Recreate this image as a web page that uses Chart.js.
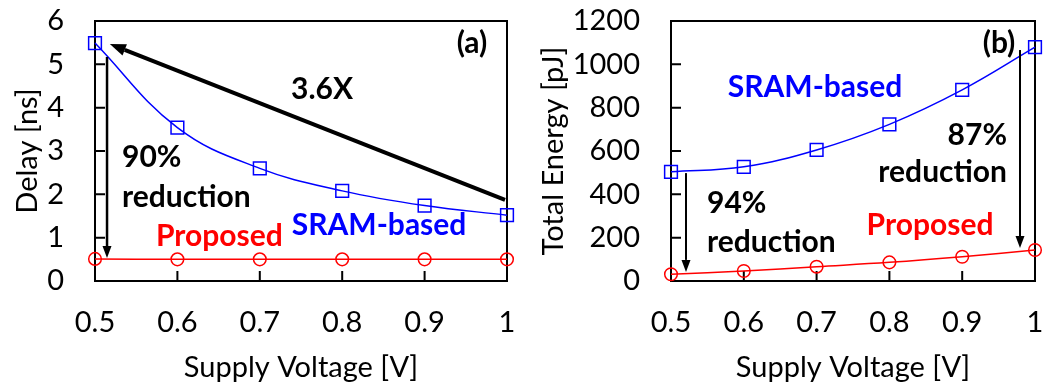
<!DOCTYPE html>
<html>
<head>
<meta charset="utf-8">
<script src="https://cdn.jsdelivr.net/npm/chart.js@4.4.1/dist/chart.umd.min.js"></script>
<style>
    html, body { margin: 0; padding: 0; background: #fff; }
    .wrap { display: flex; width: 1048px; height: 385px; }
    .cell { position: relative; width: 524px; height: 385px; }
</style>
</head>
<body>
<div class="wrap">
    <div class="cell"><canvas id="delay-chart"></canvas></div>
    <div class="cell"><canvas id="energy-chart"></canvas></div>
</div>
<script>
// values
const voltages = [0.5, 0.6, 0.7, 0.8, 0.9, 1];
const delaySram = [5.49, 3.54, 2.60, 2.08, 1.74, 1.52];
const delayProposed = [0.51, 0.50, 0.50, 0.50, 0.50, 0.50];
const energySram = [504, 527, 605, 723, 882, 1079];
const energyProposed = [31, 46, 66, 86, 112, 143];
const delayTicks = [0, 1, 2, 3, 4, 5, 6];
const energyTicks = [0, 200, 400, 600, 800, 1000, 1200];

const FONT = 'Lato, "Open Sans", sans-serif';
const BLUE = '#0000ff';
const RED = '#ff0000';

/**
 * Draws the box, inward ticks, arrows and text notes
 */
const figurePlugin = {
    id: 'figure',
    beforeDatasetsDraw(chart) {
        const { ctx, chartArea: a, scales } = chart;
        ctx.save();
        ctx.strokeStyle = '#000';
        ctx.lineWidth = 2;
        ctx.strokeRect(a.left, a.top, a.right - a.left, a.bottom - a.top);
        ctx.beginPath();
        scales.x.ticks.forEach(t => {
            const px = scales.x.getPixelForValue(t.value);
            ctx.moveTo(px, a.bottom);
            ctx.lineTo(px, a.bottom - 10);
        });
        scales.y.ticks.forEach(t => {
            const py = scales.y.getPixelForValue(t.value);
            ctx.moveTo(a.left, py);
            ctx.lineTo(a.left + 10, py);
        });
        ctx.stroke();
        ctx.restore();
    },
    afterDatasetsDraw(chart, args, opts) {
        const { ctx, scales } = chart;
        const px = v => scales.x.getPixelForValue(v);
        const py = v => scales.y.getPixelForValue(v);
        ctx.save();

        (opts.arrows || []).forEach(ar => {
            const x1 = px(ar.from[0]), y1 = py(ar.from[1]);
            const x2 = px(ar.to[0]), y2 = py(ar.to[1]);
            const ang = Math.atan2(y2 - y1, x2 - x1);
            const hl = ar.head || 12, hw = (ar.headWidth || 9) / 2;
            const bx = x2 - hl * Math.cos(ang), by = y2 - hl * Math.sin(ang);
            ctx.strokeStyle = '#000';
            ctx.fillStyle = '#000';
            ctx.lineWidth = ar.width;
            ctx.beginPath();
            ctx.moveTo(x1, y1);
            ctx.lineTo(bx, by);
            ctx.stroke();
            ctx.beginPath();
            ctx.moveTo(x2, y2);
            ctx.lineTo(bx + hw * Math.sin(ang), by - hw * Math.cos(ang));
            ctx.lineTo(bx - hw * Math.sin(ang), by + hw * Math.cos(ang));
            ctx.closePath();
            ctx.fill();
        });

        (opts.notes || []).forEach(n => {
            ctx.font = `bold ${n.size || 30}px ${FONT}`;
            ctx.fillStyle = n.color || '#000';
            ctx.textAlign = n.align || 'center';
            ctx.textBaseline = 'middle';
            ctx.fillText(n.text, px(n.x), py(n.y));
        });
        ctx.restore();
    }
};

function series(values, label, color, style, radius) {
    return {
        label: label,
        data: voltages.map((v, i) => ({ x: v, y: values[i] })),
        borderColor: color,
        borderWidth: 1.5,
        pointStyle: style,
        pointRadius: radius,
        pointBorderColor: color,
        pointBackgroundColor: 'transparent',
        pointBorderWidth: 1.5,
        tension: 0.4,
        clip: false
    };
}

function createPanel(id, cfg) {
    const ctx = document.getElementById(id);
    return new Chart(ctx, {
        type: 'line',
        data: {
            datasets: [
                series(cfg.sram, 'SRAM-based', BLUE, 'rect', 9),
                series(cfg.proposed, 'Proposed', RED, 'circle', 6.3)
            ]
        },
        options: {
            responsive: true,
            maintainAspectRatio: false,
            animation: false,
            events: [],
            layout: { padding: { top: 21, right: cfg.padRight, left: 0, bottom: 0 } },
            plugins: {
                legend: { display: false },
                tooltip: { enabled: false },
                figure: { notes: cfg.notes, arrows: cfg.arrows }
            },
            scales: {
                x: {
                    type: 'linear',
                    min: 0.5,
                    max: 1,
                    afterBuildTicks: s => { s.ticks = voltages.map(v => ({ value: v })); },
                    // fixed height, and no extra room asked for the end labels
                    afterFit: s => {
                        s.height = 104;
                        s.paddingLeft = 0;
                        s.paddingRight = 0;
                    },
                    grid: { display: false, drawTicks: false },
                    border: { display: false },
                    ticks: {
                        color: '#000',
                        font: { family: FONT, size: 29 },
                        padding: 24,
                        maxRotation: 0,
                        autoSkip: false,
                        callback: v => String(v)
                    },
                    title: {
                        display: true,
                        text: 'Supply Voltage [V]',
                        color: '#000',
                        font: { family: FONT, size: 29 },
                        padding: { top: 0, bottom: 0 }
                    }
                },
                y: {
                    min: 0,
                    max: cfg.ticks[cfg.ticks.length - 1],
                    afterBuildTicks: s => { s.ticks = cfg.ticks.map(v => ({ value: v })); },
                    afterFit: s => {
                        s.width = cfg.yWidth;
                        s.paddingTop = 0;
                        s.paddingBottom = 0;
                    },
                    grid: { display: false, drawTicks: false },
                    border: { display: false },
                    ticks: {
                        color: '#000',
                        font: { family: FONT, size: 29 },
                        padding: 31,
                        callback: v => String(v)
                    },
                    title: {
                        display: true,
                        text: cfg.yTitle,
                        color: '#000',
                        font: { family: FONT, size: 29 },
                        padding: { top: cfg.yTitlePad, bottom: 0 }
                    }
                }
            }
        },
        plugins: [figurePlugin]
    });
}

createPanel('delay-chart', {
    sram: delaySram,
    proposed: delayProposed,
    ticks: delayTicks,
    yTitle: 'Delay [ns]',
    yWidth: 95,
    yTitlePad: 10,
    padRight: 17,
    notes: [
        { text: '(a)', x: 0.9575, y: 5.49 },
        { text: '3.6X', x: 0.7755, y: 4.43 },
        { text: '90%', x: 0.5328, y: 2.86, align: 'left' },
        { text: 'reduction', x: 0.5328, y: 1.94, align: 'left' },
        { text: 'SRAM-based', x: 0.8447, y: 1.29, color: BLUE },
        { text: 'Proposed', x: 0.651, y: 1.02, color: RED }
    ],
    arrows: [
        { from: [0.9976, 1.87], to: [0.518, 5.47], width: 4, head: 16, headWidth: 12 },
        { from: [0.5146, 5.17], to: [0.5146, 0.53], width: 2.5, head: 12, headWidth: 9 }
    ]
});

createPanel('energy-chart', {
    sram: energySram,
    proposed: energyProposed,
    ticks: energyTicks,
    yTitle: 'Total Energy [pJ]',
    yWidth: 147,
    yTitlePad: 12,
    padRight: 13,
    notes: [
        { text: '(b)', x: 0.9505, y: 1098 },
        { text: 'SRAM-based', x: 0.6978, y: 895, color: BLUE },
        { text: '87%', x: 0.9615, y: 674, align: 'right' },
        { text: 'reduction', x: 0.9615, y: 503, align: 'right' },
        { text: 'Proposed', x: 0.8558, y: 258, color: RED },
        { text: '94%', x: 0.5495, y: 360, align: 'left' },
        { text: 'reduction', x: 0.5495, y: 180, align: 'left' }
    ],
    arrows: [
        { from: [0.5206, 498], to: [0.5206, 42], width: 2, head: 12, headWidth: 9 },
        { from: [0.9794, 1066], to: [0.9794, 152], width: 2, head: 12, headWidth: 9 }
    ]
});
</script>
</body>
</html>
